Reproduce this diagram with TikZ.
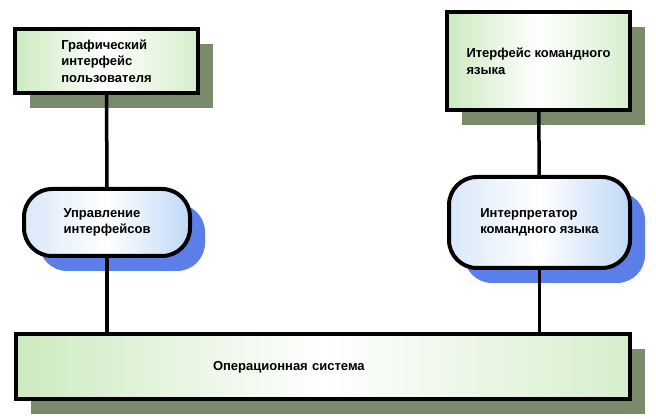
\documentclass[tikz,border=0pt]{standalone}
\usepackage{fontspec}
\setmainfont{Liberation Sans}
\usetikzlibrary{shadows}
\usepackage{xcolor}
\definecolor{boxgreen}{RGB}{204,234,192}
\definecolor{shadegreen}{RGB}{122,138,106}
\definecolor{shadeblue}{RGB}{92,126,232}
\definecolor{paleblue}{RGB}{192,216,246}

\begin{document}
\begin{tikzpicture}[x=1pt, y=-1pt,
 every node/.style={font=\bfseries\fontsize{13}{16.5}\selectfont, align=left, inner sep=0pt},
 greenbox/.style={draw=black, line width=4pt, left color=boxgreen, right color=boxgreen!80, middle color=white,
  drop shadow={shadow xshift=15pt, shadow yshift=-15pt, opacity=1, fill=shadegreen}},
 roundbox/.style={draw=black, line width=4pt, rounded corners=28pt, left color=paleblue!60, right color=paleblue, middle color=white,
  drop shadow={shadow xshift=15pt, shadow yshift=-15pt, opacity=1, fill=shadeblue}},
 link/.style={black, line width=3.5pt}]
\useasboundingbox (0,0) rectangle (656,419);
\node[greenbox, minimum width=183pt, minimum height=64pt] (gui) at (106.5,61) {Графический\\интерфейс\\пользователя};
\node[greenbox, minimum width=183pt, minimum height=98pt] (cli) at (538.5,61) {Итерфейс командного\\языка};
\node[roundbox, minimum width=166pt, minimum height=67pt] (mgr) at (107,222.5) {Управление\\интерфейсов};
\node[roundbox, minimum width=181pt, minimum height=91pt] (interp) at (539.5,222.5) {Интерпретатор\\командного языка};
\node[greenbox, minimum width=614pt, minimum height=65pt, text width=220pt, inner xsep=197pt] (os) at (323,367) {Операционная система};
\draw[link] (gui) -- (mgr);
\draw[link] (mgr) -- (mgr |- os.north);
\draw[link] (cli) -- (interp);
\draw[link] (interp) -- (interp |- os.north);
\end{tikzpicture}
\end{document}
